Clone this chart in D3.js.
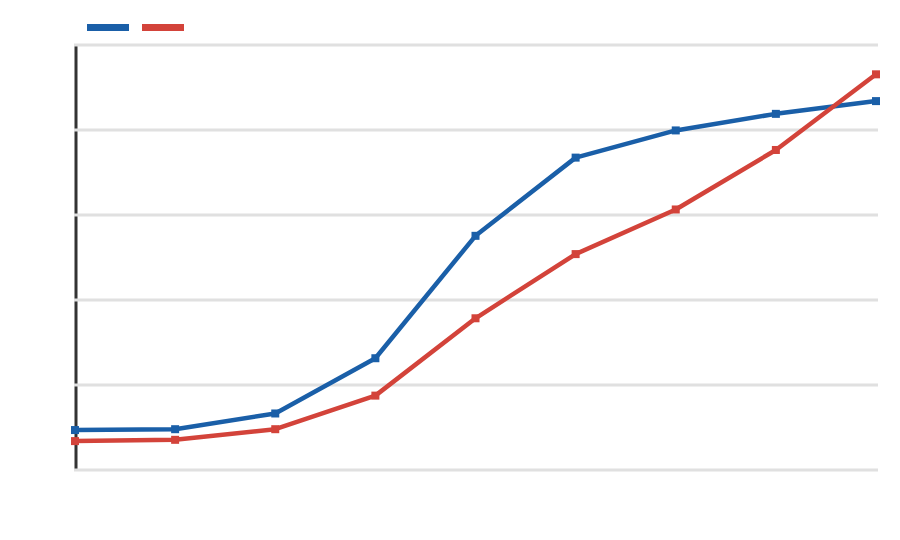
<!DOCTYPE html>
<html>
<head>
<meta charset="utf-8">
<script src="https://cdn.jsdelivr.net/npm/d3@7"></script>
<style>
  body { margin: 0; background: #fff; }
  svg { display: block; }
</style>
</head>
<body>
<div id="chart"></div>
<script>
// data
const categories = [0, 1, 2, 3, 4, 5, 6, 7, 8];
const seriesNames = ["", ""];
const blueValues = [9.4, 9.6, 13.3, 26.3, 55.1, 73.5, 79.9, 83.8, 86.8];
const redValues = [6.8, 7.1, 9.6, 17.5, 35.7, 50.8, 61.3, 75.3, 93.1];
const yTicks = [0, 20, 40, 60, 80, 100];
const colors = ["#1a5fa8", "#d3433a"];

const totalWidth = 900, totalHeight = 540;
const margin = { top: 45, right: 24, bottom: 70, left: 75 };
const width = totalWidth - margin.left - margin.right;
const height = totalHeight - margin.top - margin.bottom;

const svg = d3.select("#chart")
    .append("svg")
    .attr("width", totalWidth)
    .attr("height", totalHeight)
    .append("g")
    .attr("transform", "translate(" + margin.left + "," + margin.top + ")");

const x = d3.scalePoint()
    .domain(categories)
    .range([0, width]);

const y = d3.scaleLinear()
    .domain([0, 100])
    .range([height, 0]);

// y axis line (no labels in the reference)
const yAxis = svg.append("g")
    .call(d3.axisLeft(y).tickValues(yTicks).tickSize(0).tickFormat(""));
yAxis.select(".domain")
    .attr("stroke", "#333")
    .attr("stroke-width", 3)
    .attr("transform", "translate(0.5,0)");

// gridlines, drawn over the axis line
svg.append("g")
    .selectAll("line")
    .data(yTicks)
    .join("line")
    .attr("x1", -1)
    .attr("x2", width + 2)
    .attr("y1", d => y(d))
    .attr("y2", d => y(d))
    .attr("stroke", "#e0e0e0")
    .attr("stroke-width", 3);

const series = [
    { name: seriesNames[0], values: blueValues, color: colors[0] },
    { name: seriesNames[1], values: redValues, color: colors[1] }
];

const line = d3.line()
    .x((d, i) => x(categories[i]))
    .y(d => y(d));

const markerSize = 8;

series.forEach(s => {
    svg.append("path")
        .datum(s.values)
        .attr("d", line)
        .attr("fill", "none")
        .attr("stroke", s.color)
        .attr("stroke-width", 4.5)
        .attr("stroke-linejoin", "round");

    svg.append("g")
        .selectAll("rect")
        .data(s.values)
        .join("rect")
        .attr("x", (d, i) => x(categories[i]) - markerSize / 2)
        .attr("y", d => y(d) - markerSize / 2)
        .attr("width", markerSize)
        .attr("height", markerSize)
        .attr("fill", s.color);
});

// legend swatches
const legend = d3.select("svg").append("g")
    .attr("transform", "translate(87,24)");
legend.selectAll("rect")
    .data(series)
    .join("rect")
    .attr("x", (d, i) => i * 55)
    .attr("y", 0)
    .attr("width", 42)
    .attr("height", 7)
    .attr("fill", d => d.color);
</script>
</body>
</html>
